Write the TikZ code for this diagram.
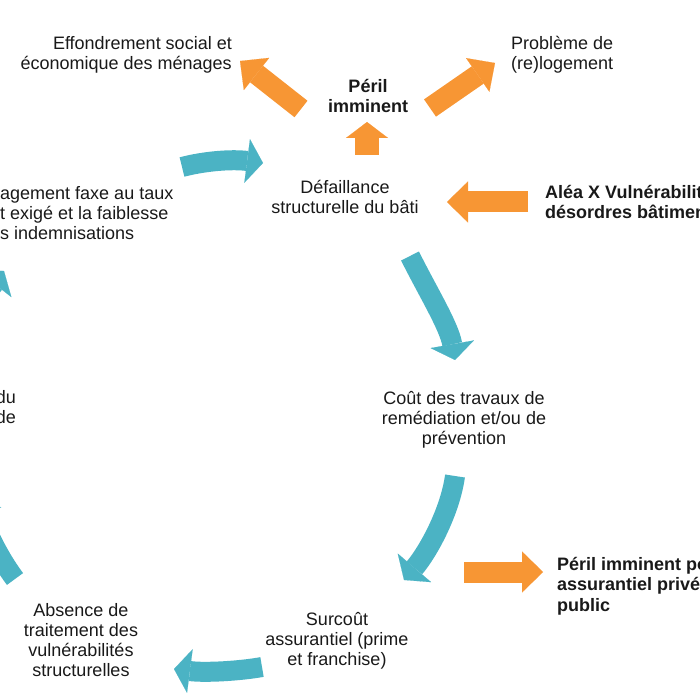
\documentclass[tikz,border=0pt]{standalone}
\usepackage{fontspec}
\setmainfont{Liberation Sans}
\usetikzlibrary{arrows.meta}
\definecolor{cycleteal}{RGB}{75,179,196}
\definecolor{perilorange}{RGB}{247,150,52}
\tikzset{
  txt/.style={inner sep=0pt,font=\fontsize{18}{20}\selectfont,text=black!90},
  txtb/.style={txt,font=\fontsize{18}{20.5}\selectfont\bfseries},
  cyclearrow/.style={draw=cycleteal,line width=20pt,
    -{Triangle[width=44pt,length=16pt,line width=0.1pt]}},
  perilarrow/.style={draw=perilorange,line width=21pt,
    -{Triangle[width=41pt,length=21pt,line width=0.1pt]}}
}

\begin{document}
\begin{tikzpicture}[x=1pt,y=-1pt]
  \useasboundingbox (0,0) rectangle (700,700);
  \clip (0,0) rectangle (700,700);
  % texts
  \node[txt,anchor=east,align=right] (effondrement) at (232,55) {Effondrement social et\\économique des ménages};
  \node[txtb,align=center] (peril) at (368,96) {Péril\\imminent};
  \node[txt,anchor=west,align=left] (relogement) at (511,55) {Problème de\\(re)logement};
  \node[txt,align=center] (defaillance) at (345,197) {Défaillance\\structurelle du bâti};
  \node[txtb,anchor=west,align=left] (alea) at (545,202) {Aléa X Vulnérabilité\\désordres bâtiment};
  \node[txt,anchor=west,align=left] (desengagement) at (0,213) {agement faxe au taux\\t exigé et la faiblesse\\s indemnisations};
  \node[txt,anchor=east,align=right] (gauche) at (16,407) {du\\de};
  \node[txt,align=center] (cout) at (464,420) {Coût des travaux de\\remédiation et/ou de\\prévention};
  \node[txtb,anchor=west,align=left] (perilpub) at (557,586) {Péril imminent pour\\assurantiel privé\\public};
  \node[txt,align=center] (surcout) at (337,641) {Surcoût\\assurantiel (prime\\et franchise)};
  \node[txt,align=center] (absence) at (81,640) {Absence de\\traitement des\\vulnérabilités\\structurelles};
  % orange arrows
  \coordinate (o1s) at (301,109); \coordinate (o1e) at (240,61);
  \coordinate (o2s) at (430,108); \coordinate (o2e) at (495,63);
  \coordinate (o3s) at (367,155); \coordinate (o3e) at (367,122);
  \coordinate (o4s) at (528,202); \coordinate (o4e) at (447,202);
  \coordinate (o5s) at (464,572); \coordinate (o5e) at (543,572);
  \draw[perilarrow] (o1s) -- (o1e);
  \draw[perilarrow] (o2s) -- (o2e);
  \draw[perilarrow,line width=24pt,-{Triangle[width=42pt,length=16pt,line width=0.1pt]}] (o3s) -- (o3e);
  \draw[perilarrow] (o4s) -- (o4e);
  \draw[perilarrow] (o5s) -- (o5e);
  % cycle arrows
  \coordinate (c1s) at (182,167); \coordinate (c1e) at (263,163);
  \coordinate (c2s) at (410,256); \coordinate (c2e) at (455,360);
  \coordinate (c3s) at (455,476); \coordinate (c3e) at (404,580);
  \coordinate (c4s) at (262,667); \coordinate (c4e) at (174,669);
  \coordinate (c5s) at (15,579);  \coordinate (c5e) at (-25,500);
  \coordinate (c6s) at (-60,380); \coordinate (c6e) at (4,271);
  \draw[cyclearrow] (c1s) .. controls (205,161) and (232,159) .. (c1e);
  \draw[cyclearrow] (c2s) .. controls (428,292) and (449,326) .. (c2e);
  \draw[cyclearrow] (c3s) .. controls (450,512) and (428,552) .. (c3e);
  \draw[cyclearrow] (c4s) .. controls (240,671) and (205,673) .. (c4e);
  \draw[cyclearrow] (c5s) .. controls (3,563) and (-10,540) .. (c5e);
  \draw[cyclearrow] (c6s) .. controls (-50,340) and (-18,299) .. (c6e);
\end{tikzpicture}
\end{document}
